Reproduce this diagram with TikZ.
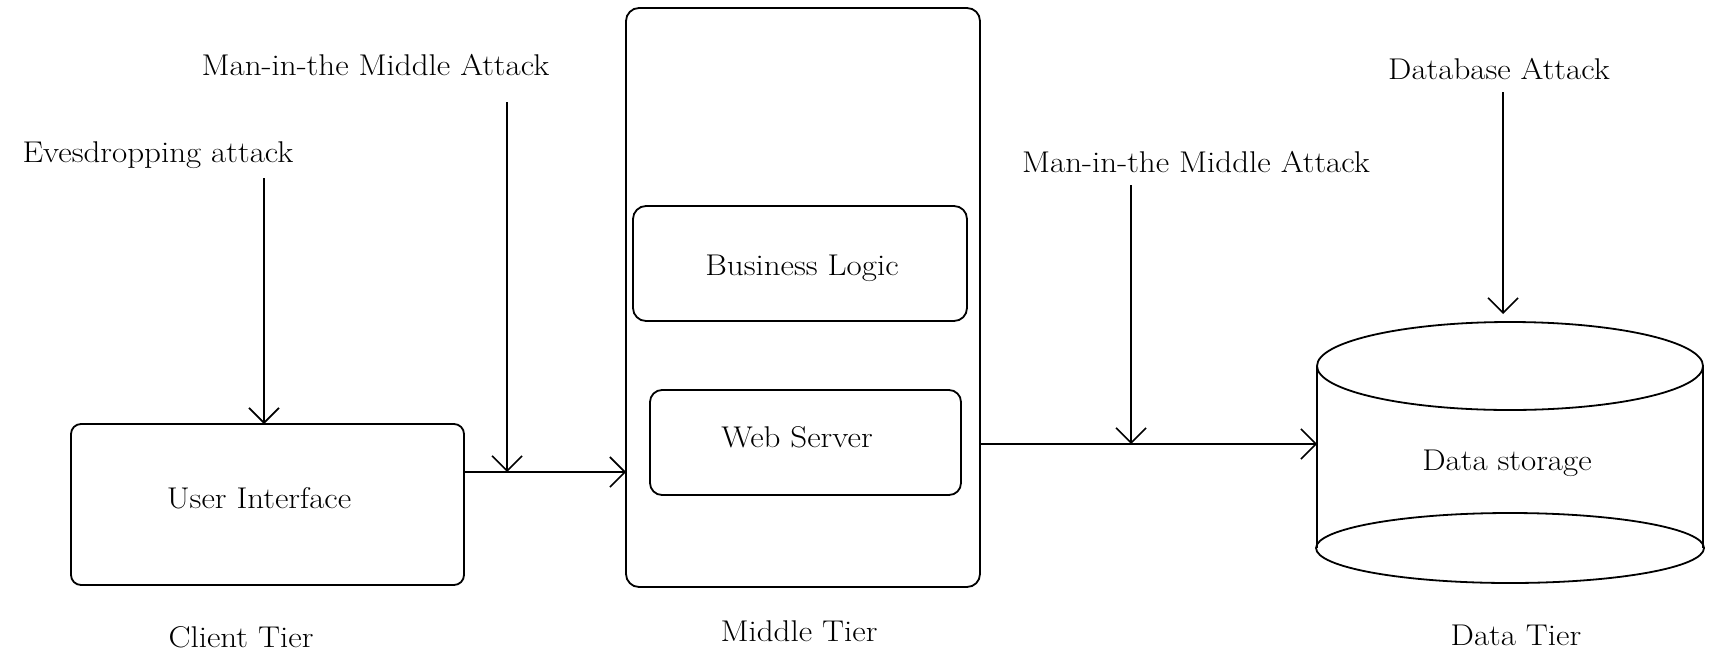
\documentclass[tikz,border=0pt]{standalone}
\usepackage{fontspec}
\setmainfont{Latin Modern Roman}[FakeStretch=1.1]
\usetikzlibrary{arrows.meta}

\begin{document}
\begin{tikzpicture}[x=0.5pt,y=-0.5pt,
  line width=0.9pt,
  box/.style={draw,rounded corners=#1,inner sep=0pt,outer sep=0pt},
  box/.default=6pt,
  lbl/.style={anchor=base,inner sep=0pt,font=\fontsize{15}{18}\selectfont},
  arr/.style={-{Straight Barb[length=7.5pt,width=15pt,line width=0.8pt]}},
]
\useasboundingbox (0,0) rectangle (1716,653);

% tiers
\node[box=5pt,minimum width=196.5pt,minimum height=80.5pt] (ui) at (267.5,504.5) {};
\node[box=6.5pt,minimum width=177pt,minimum height=289.5pt] (mid) at (803,297.5) {};
\node[box=6.5pt,minimum width=167pt,minimum height=57.5pt] (bl) at (800,263.5) {};
\node[box=6pt,minimum width=155.5pt,minimum height=52.5pt] (ws) at (805.5,442.5) {};

% data storage cylinder
\node[inner sep=0pt,outer sep=0pt,minimum width=193pt,minimum height=130.5pt] (db) at (1510,452.5) {};
\draw (1510,366) ellipse [x radius=193,y radius=44];
\draw (1510,548) ellipse [x radius=194,y radius=35];
\draw (1317,366) -- (1317,548);
\draw (1703,366) -- (1703,548);

% labels
\node[lbl] (uit) at (259,508) {User Interface};
\node[lbl] (blt) at (802,275) {Business Logic};
\node[lbl] (wst) at (797,447) {Web Server};
\node[lbl] (dst) at (1507,470) {Data storage};
\node[lbl] (ct) at (241,647) {Client Tier};
\node[lbl] (mt) at (799,641) {Middle Tier};
\node[lbl] (dt) at (1516,645) {Data Tier};

\node[lbl] (eav) at (158,162) {Evesdropping attack};
\node[lbl] (mitma) at (375.5,75) {Man-in-the Middle Attack};
\node[lbl] (mitmb) at (1196,172) {Man-in-the Middle Attack};
\node[lbl] (dba) at (1499,79) {Database Attack};

% connector levels and attack arrow starts
\coordinate (lvla) at (0,472);
\coordinate (lvlb) at (0,444);
\coordinate (eavs) at (264,178);
\coordinate (mitmas) at (507,102);
\coordinate (mitmbs) at (1131,185);
\coordinate (dbas) at (1503,92);

% links between tiers
\draw[arr] (ui.east |- lvla) -- (mid.west |- lvla);
\draw[arr] (mid.east |- lvlb) -- (db.west |- lvlb);

% attacks
\draw[arr] (eavs) -- (eavs |- ui.north);
\draw[arr] (mitmas) -- (mitmas |- lvla);
\draw[arr] (mitmbs) -- (mitmbs |- lvlb);
\draw[arr,shorten >=4pt] (dbas) -- (dbas |- db.north);
\end{tikzpicture}
\end{document}
